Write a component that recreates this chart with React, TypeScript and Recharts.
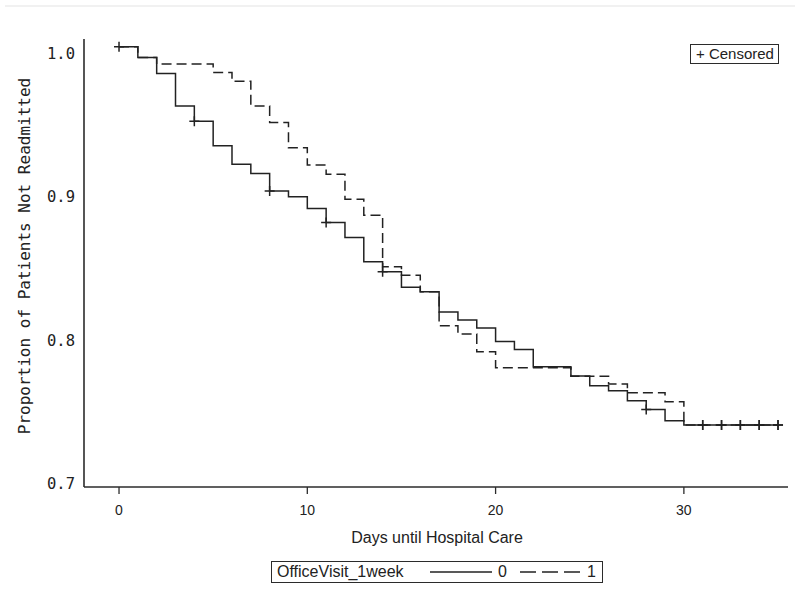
import React from 'react';
import { ComposedChart, Line, Scatter, XAxis, YAxis } from 'recharts';

// Days since discharge
const days = [
  0, 1, 2, 3, 4, 5, 6, 7, 8, 9, 10, 11, 12, 13, 14, 15, 16, 17,
  18, 19, 20, 21, 22, 23, 24, 25, 26, 27, 28, 29, 30, 31, 32, 33, 34, 35,
];
// OfficeVisit_1week = 0 (solid)
const group0Values = [
  1.0, 0.9926, 0.9817, 0.9595, 0.9492, 0.9324, 0.9198, 0.9136, 0.9016, 0.8977,
  0.8898, 0.8802, 0.87, 0.8534, 0.8466, 0.836, 0.833, 0.8193, 0.8137, 0.8084,
  0.7991, 0.7937, 0.7819, 0.7819, 0.7757, 0.7689, 0.7655, 0.7587, 0.7528, 0.7451,
  0.7422, 0.7422, 0.7422, 0.7422, 0.7422, 0.7422,
];
// OfficeVisit_1week = 1 (dashed)
const group1Values = [
  1.0, 0.9926, 0.9881, 0.9881, 0.9881, 0.9824, 0.9765, 0.9595, 0.9484, 0.9311,
  0.9193, 0.9131, 0.8961, 0.8852, 0.85, 0.8443, 0.833, 0.8098, 0.8042, 0.7921,
  0.7812, 0.7812, 0.7812, 0.7812, 0.7755, 0.7755, 0.7701, 0.7642, 0.7642, 0.758,
  0.7422, 0.7422, 0.7422, 0.7422, 0.7422, 0.7422,
];
const group0CensorDays = [0, 4, 8, 11, 14, 28, 31, 32, 33, 34, 35];
const group1CensorDays = [31, 32, 33, 34, 35];

const xTicks = [0, 10, 20, 30];
const yTicks = [0.7, 0.8, 0.9, 1.0];
const seriesNames = ['0', '1'];
const legendTitle = 'OfficeVisit_1week';
const xTitle = 'Days until Hospital Care';
const yTitle = 'Proportion of Patients Not Readmitted';
const censorLabel = '+ Censored';

const table = days.map((d, i) => ({ day: d, g0: group0Values[i], g1: group1Values[i] }));
const censor0 = group0CensorDays.map((d) => ({ day: d, v: group0Values[days.indexOf(d)] }));
const censor1 = group1CensorDays.map((d) => ({ day: d, v: group1Values[days.indexOf(d)] }));

const INK = '#222';
const FRAME = '#2b2b2b';
const SANS = "'Liberation Sans', Arial, sans-serif";
const MONO = "'DejaVu Sans Mono', 'Liberation Mono', monospace";

const PlusShape = (props: any) => {
  const { cx, cy } = props;
  if (cx == null || cy == null) return null;
  return (
    <path
      d={`M${cx - 5},${cy}h10M${cx},${cy - 5}v10`}
      stroke={INK}
      strokeWidth={1.5}
      fill="none"
    />
  );
};

const XTick = (props: any) => {
  const { x, y, payload } = props;
  return (
    <text x={x} y={y} dy="0.71em" textAnchor="middle" fontFamily={SANS} fontSize={14} fill={INK}>
      {payload.value}
    </text>
  );
};

const YTick = (props: any) => {
  const { x, y, payload } = props;
  const ly = 54 + (y - 46.6) * 0.976;
  return (
    <text x={x} y={ly} dominantBaseline="central" textAnchor="end" fontFamily={MONO} fontSize={15.5} fill={INK}>
      {Number(payload.value).toFixed(1)}
    </text>
  );
};

export default function App() {
  return (
    <div style={{ position: 'absolute', left: 0, top: 0, width: 800, height: 593, background: '#fff' }}>
      <div style={{ position: 'absolute', left: 5, top: 5, width: 790, height: 2, background: '#f1f1f1' }} />
      <ComposedChart
        width={800}
        height={593}
        data={table}
        margin={{ top: 39, right: 12, bottom: 0, left: 0 }}
      >
        <XAxis
          xAxisId="b"
          dataKey="day"
          type="number"
          domain={[-1.86, 35.53]}
          allowDataOverflow
          ticks={xTicks}
          height={106}
          tickSize={7}
          tickMargin={11}
          tick={<XTick />}
          tickLine={{ stroke: FRAME, strokeWidth: 1.3 }}
          axisLine={{ stroke: FRAME, strokeWidth: 1.6 }}
        />
        <XAxis
          xAxisId="t"
          dataKey="day"
          type="number"
          orientation="top"
          domain={[-1.86, 35.53]}
          allowDataOverflow
          height={0}
          tick={false}
          tickLine={false}
          axisLine={{ stroke: FRAME, strokeWidth: 1.6 }}
        />
        <YAxis
          yAxisId="l"
          type="number"
          domain={[0.7, 1.0052]}
          allowDataOverflow
          ticks={yTicks}
          width={84}
          tickSize={0}
          tickMargin={9}
          tickLine={false}
          tick={<YTick />}
          axisLine={{ stroke: FRAME, strokeWidth: 1.6 }}
        />
        <YAxis
          yAxisId="r"
          type="number"
          orientation="right"
          domain={[0.7, 1.0052]}
          allowDataOverflow
          width={0}
          tick={false}
          tickLine={false}
          axisLine={{ stroke: FRAME, strokeWidth: 1.6 }}
        />
        <Line
          xAxisId="b"
          yAxisId="l"
          type="stepAfter"
          dataKey="g1"
          name={seriesNames[1]}
          stroke={INK}
          strokeWidth={1.5}
          strokeDasharray="10 5"
          dot={false}
          activeDot={false}
          isAnimationActive={false}
        />
        <Line
          xAxisId="b"
          yAxisId="l"
          type="stepAfter"
          dataKey="g0"
          name={seriesNames[0]}
          stroke={INK}
          strokeWidth={1.5}
          dot={false}
          activeDot={false}
          isAnimationActive={false}
        />
        <Scatter
          xAxisId="b"
          yAxisId="l"
          data={censor1}
          dataKey="v"
          shape={<PlusShape />}
          isAnimationActive={false}
        />
        <Scatter
          xAxisId="b"
          yAxisId="l"
          data={censor0}
          dataKey="v"
          shape={<PlusShape />}
          isAnimationActive={false}
        />
      </ComposedChart>

      {/* Y axis title */}
      <div
        style={{
          position: 'absolute',
          left: 25,
          top: 256,
          transform: 'translate(-50%, -50%) rotate(-90deg)',
          whiteSpace: 'nowrap',
          fontFamily: MONO,
          fontSize: 16,
          color: INK,
          lineHeight: '18px',
        }}
      >
        {yTitle}
      </div>

      {/* X axis title */}
      <div
        style={{
          position: 'absolute',
          left: 437,
          top: 538,
          transform: 'translate(-50%, -50%)',
          whiteSpace: 'nowrap',
          fontFamily: SANS,
          fontSize: 16,
          color: INK,
          lineHeight: '18px',
        }}
      >
        {xTitle}
      </div>

      {/* Censored inset legend */}
      <div
        style={{
          position: 'absolute',
          left: 690,
          top: 44,
          width: 89,
          height: 20,
          border: `1px solid ${FRAME}`,
          boxSizing: 'border-box',
          background: '#fff',
          fontFamily: SANS,
          fontSize: 15,
          color: INK,
          lineHeight: '18px',
          paddingLeft: 5,
          whiteSpace: 'nowrap',
        }}
      >
        {censorLabel}
      </div>

      {/* Bottom legend */}
      <div
        style={{
          position: 'absolute',
          left: 271,
          top: 561,
          width: 332,
          height: 22,
          border: `1px solid ${FRAME}`,
          boxSizing: 'border-box',
          background: '#fff',
          fontFamily: SANS,
          fontSize: 16,
          color: INK,
        }}
      >
        <span style={{ position: 'absolute', left: 5, top: 1, lineHeight: '18px', whiteSpace: 'nowrap' }}>
          {legendTitle}
        </span>
        <svg width={332} height={22} style={{ position: 'absolute', left: -1, top: -1 }}>
          <line x1={159} x2={221} y1={11} y2={11} stroke={INK} strokeWidth={1.5} />
          <line x1={249} x2={309} y1={11} y2={11} stroke={INK} strokeWidth={1.5} strokeDasharray="16 6" />
        </svg>
        <span style={{ position: 'absolute', left: 226, top: 1, lineHeight: '18px' }}>{seriesNames[0]}</span>
        <span style={{ position: 'absolute', left: 315, top: 1, lineHeight: '18px' }}>{seriesNames[1]}</span>
      </div>
    </div>
  );
}
